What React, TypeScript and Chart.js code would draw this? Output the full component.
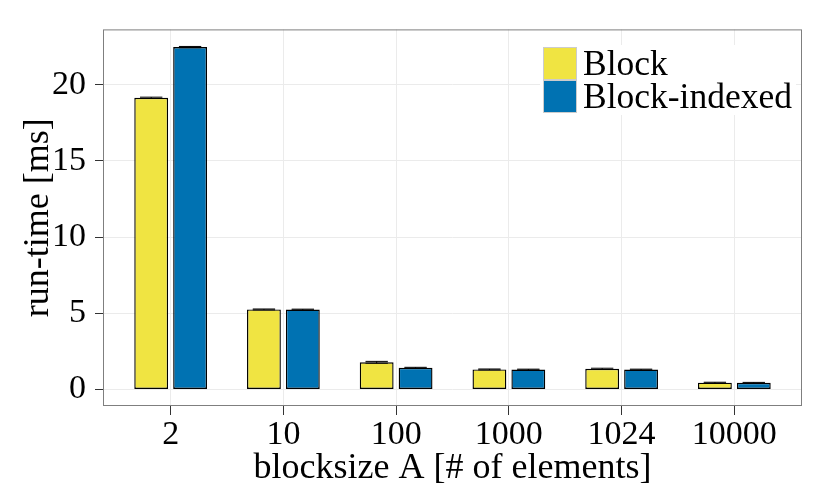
import { useEffect, useRef } from "react";
import { Chart, registerables } from "chart.js";

Chart.register(...registerables);

// blocksize A categories and measured run-times [ms]
const categories = ["2", "10", "100", "1000", "1024", "10000"];
const blockValues = [19.15, 5.25, 1.78, 1.31, 1.35, 0.44];
const blockIndexedValues = [22.48, 5.24, 1.42, 1.30, 1.30, 0.43];
const blockErrors = [0.04, 0.03, 0.06, 0.03, 0.04, 0.03];
const blockIndexedErrors = [0.04, 0.03, 0.03, 0.03, 0.03, 0.03];
const yTicks = [0, 2.5, 5, 7.5, 10, 12.5, 15, 17.5, 20, 22.5];

const FONT = "'Liberation Serif', 'Times New Roman', serif";
const YELLOW = "#F0E442";
const BLUE = "#0072B2";

const errorBarPlugin = {
  id: "errorBars",
  afterDatasetsDraw(chart: any) {
    const { ctx } = chart;
    const yScale = chart.scales.y;
    const errs = [blockErrors, blockIndexedErrors];
    ctx.save();
    ctx.strokeStyle = "#000";
    ctx.lineWidth = 1;
    chart.data.datasets.forEach((ds: any, di: number) => {
      const meta = chart.getDatasetMeta(di);
      meta.data.forEach((bar: any, i: number) => {
        const v = ds.data[i].y;
        const e = errs[di][i];
        const half = bar.width * 0.33;
        const yHi = yScale.getPixelForValue(v + e);
        const yLo = yScale.getPixelForValue(v - e);
        ctx.beginPath();
        ctx.moveTo(bar.x - half, yHi);
        ctx.lineTo(bar.x + half, yHi);
        ctx.moveTo(bar.x - half, yLo);
        ctx.lineTo(bar.x + half, yLo);
        ctx.moveTo(bar.x, yHi);
        ctx.lineTo(bar.x, yLo);
        ctx.stroke();
      });
    });
    ctx.restore();
  },
};

const panelPlugin = {
  id: "panel",
  afterDraw(chart: any) {
    const { ctx, chartArea: a } = chart;
    ctx.save();
    // panel border
    ctx.strokeStyle = "#7F7F7F";
    ctx.lineWidth = 1;
    ctx.strokeRect(a.left + 0.5, a.top + 0.5, a.right - a.left - 1, a.bottom - a.top - 1);

    // legend inside the panel
    const keyX = 543;
    const keyW = 34;
    const keyH = 33;
    const top = 47;
    ctx.fillStyle = "#fff";
    ctx.fillRect(540, 45, 256, 70);
    const entries = [
      { label: "Block", color: YELLOW },
      { label: "Block-indexed", color: BLUE },
    ];
    ctx.font = `35.5px ${FONT}`;
    ctx.textBaseline = "alphabetic";
    ctx.textAlign = "left";
    entries.forEach((en, i) => {
      const y = top + i * keyH;
      ctx.fillStyle = en.color;
      ctx.fillRect(keyX, y, keyW, keyH);
      ctx.strokeStyle = "#CCCCCC";
      ctx.strokeRect(keyX + 0.5, y + 0.5, keyW - 1, keyH - 1);
      ctx.fillStyle = "#000";
      ctx.fillText(en.label, 583, y + 28);
    });
    ctx.restore();
  },
};

export default function App() {
  const chartRef = useRef<HTMLCanvasElement>(null);
  const chartInstance = useRef<Chart | null>(null);

  useEffect(() => {
    document.body.style.margin = "0";
    if (!chartRef.current) return;
    if (chartInstance.current) {
      chartInstance.current.destroy();
    }
    const ctx = chartRef.current.getContext("2d");
    if (!ctx) return;

    const toPoints = (vals: number[]) => vals.map((v, i) => ({ x: i, y: v }));

    chartInstance.current = new Chart(ctx, {
      type: "bar",
      data: {
        datasets: [
          {
            label: "Block",
            data: toPoints(blockValues),
            backgroundColor: YELLOW,
            borderColor: "#000",
            borderWidth: 1.4,
            borderSkipped: false,
            categoryPercentage: 0.69,
            barPercentage: 0.87,
          },
          {
            label: "Block-indexed",
            data: toPoints(blockIndexedValues),
            backgroundColor: BLUE,
            borderColor: "#000",
            borderWidth: 1.4,
            borderSkipped: false,
            categoryPercentage: 0.69,
            barPercentage: 0.87,
          },
        ],
      },
      options: {
        responsive: true,
        maintainAspectRatio: false,
        animation: false,
        layout: { padding: { top: 27, right: 28, left: 0, bottom: 0 } },
        plugins: {
          legend: { display: false },
          tooltip: { enabled: false },
        },
        scales: {
          x: {
            type: "linear",
            offset: false,
            min: -0.6,
            max: categories.length - 0.4,
            afterBuildTicks(scale: any) {
              scale.ticks = categories.map((_, i) => ({ value: i }));
            },
            grid: {
              offset: false,
              color: "#EBEBEB",
              tickColor: "#333",
              tickLength: 9,
            },
            border: { display: false },
            ticks: {
              color: "#000",
              font: { family: FONT, size: 34 },
              padding: 0,
              maxRotation: 0,
              autoSkip: false,
              callback: (v: any) => categories[Math.round(Number(v))] ?? "",
            },
            title: {
              display: true,
              text: "blocksize A [# of elements]",
              color: "#000",
              font: { family: FONT, size: 36 },
              padding: { top: 0, bottom: 8 },
            },
            afterFit(scale: any) {
              scale.height = 92;
            },
          },
          y: {
            min: -1.09,
            max: 23.64,
            afterBuildTicks(scale: any) {
              scale.ticks = yTicks.map((v) => ({ value: v }));
            },
            grid: {
              color: (c: any) => (c.tick && c.tick.value % 5 === 0 ? "#EBEBEB" : "#F7F7F7"),
              tickColor: (c: any) => (c.tick && c.tick.value % 5 === 0 ? "#333" : "rgba(0,0,0,0)"),
              tickLength: 8,
            },
            border: { display: false },
            ticks: {
              color: "#000",
              font: { family: FONT, size: 34 },
              padding: 9,
              callback: (v: any) => (Number(v) % 5 === 0 ? String(v) : ""),
            },
            title: {
              display: true,
              text: "run-time [ms]",
              color: "#000",
              font: { family: FONT, size: 36 },
              padding: { top: 17, bottom: 0 },
            },
            afterFit(scale: any) {
              scale.width = 103;
            },
          },
        },
      },
      plugins: [errorBarPlugin, panelPlugin],
    });

    return () => {
      if (chartInstance.current) {
        chartInstance.current.destroy();
        chartInstance.current = null;
      }
    };
  }, []);

  return (
    <div style={{ width: 830, height: 498, position: "relative", background: "#fff" }}>
      <canvas ref={chartRef} />
    </div>
  );
}
